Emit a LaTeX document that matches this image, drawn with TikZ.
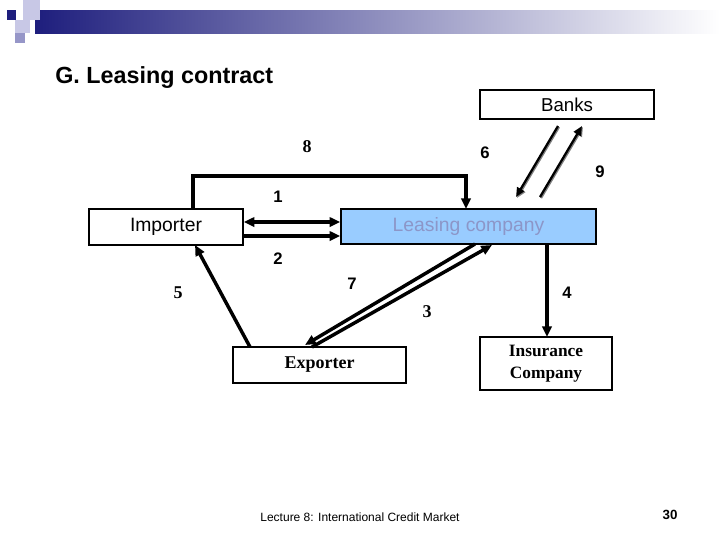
\documentclass[tikz,border=0pt]{standalone}
\usepackage{fontspec}
\setmainfont{Liberation Serif}
\newfontfamily\arial{Liberation Sans}
\usetikzlibrary{calc,arrows.meta}
\definecolor{navy}{RGB}{30,30,125}
\definecolor{lav}{RGB}{200,200,230}
\definecolor{lav2}{RGB}{150,150,200}
\definecolor{leasefill}{RGB}{153,204,255}
\definecolor{leasetext}{RGB}{140,150,200}
\tikzset{
 box/.style={draw,line width=1.2pt,minimum height=0pt,inner sep=0pt},
 arr/.style={line width=2.6pt,-{Triangle[length=8pt,width=7pt]}},
 thinarr/.style={line width=1.7pt,-{Triangle[length=7pt,width=6pt]}},
 num/.style={font=\arial\bfseries\fontsize{12.5}{14}\selectfont},
 snum/.style={font=\bfseries\fontsize{13.5}{15}\selectfont}
}
\begin{document}
\begin{tikzpicture}[x=0.75pt,y=-0.75pt]
\useasboundingbox (0,0) rectangle (720,540);
% header
\shade[left color=navy,right color=white,draw=none] (35,10) rectangle (720,33);
\fill[lav] (23,0) rectangle (40,20);
\fill[lav] (15,20) rectangle (30,33);
\fill[lav2] (15,33) rectangle (25,43);
\fill[navy] (7,10) rectangle (16,20);
\node[anchor=west,inner sep=0pt,font=\arial\bfseries\fontsize{17.5}{20}\selectfont] (title) at (55,78) {G. Leasing contract};
% boxes
\node[box,minimum width=174*0.75pt,minimum height=29*0.75pt,font=\arial\fontsize{14}{16}\selectfont] (banks) at (567,104.5) {Banks};
\node[box,minimum width=154*0.75pt,minimum height=36*0.75pt,font=\arial\fontsize{14.5}{16}\selectfont] (imp) at (166,227) {Importer};
\node[box,fill=leasefill,minimum width=255*0.75pt,minimum height=35*0.75pt,font=\arial\fontsize{14.5}{16}\selectfont,text=leasetext] (lease) at (468.5,226.5) {\raisebox{2pt}{Leasing company}};
\node[box,minimum width=173*0.75pt,minimum height=36*0.75pt,font=\bfseries\fontsize{13.5}{15}\selectfont] (exp) at (319.5,365) {\raisebox{1pt}{Exporter}};
\node[box,minimum width=132*0.75pt,minimum height=53*0.75pt,align=center,font=\bfseries\fontsize{13}{16.5}\selectfont] (ins) at (546,363.5) {Insurance\\Company};
% connectors
\coordinate (c2) at (466,176);
\draw[arr] (193,209) |- (c2) -- (466,209);
\draw[line width=2.6pt,{Triangle[length=8pt,width=7pt]}-{Triangle[length=8pt,width=7pt]}] (imp.east |- 0,222) -- (lease.west |- 0,222);
\draw[arr] (imp.east |- 0,236) -- (lease.west |- 0,236);
\draw[arr] (475,244) -- (305,345);
\draw[arr] (312,347) -- (492,245);
\draw[arr] (250,347) -- (195,245);
\draw[arr] (547,244) -- (547,337);
\draw[thinarr,gray,shift={(1,1)}] (558,126) -- (516,197);
\draw[thinarr] (558,126) -- (516,197);
\draw[thinarr,gray,shift={(1,1)}] (540,197) -- (582,126);
\draw[thinarr] (540,197) -- (582,126);
% labels
\node[snum] (n8) at (307,147) {8};
\node[num] (n6) at (485,153) {6};
\node[num] (n9) at (600,172) {9};
\node[num] (n1) at (278,197) {1};
\node[num] (n2) at (278,259) {2};
\node[num] (n7) at (352,284) {7};
\node[snum] (n5) at (178,293) {5};
\node[snum] (n3) at (427,312) {3};
\node[num] (n4) at (567,293) {4};
\node[font=\arial\fontsize{9}{10}\selectfont] (foot) at (360,517) {Lecture 8: International Credit Market};
\node[font=\arial\bfseries\fontsize{10}{11}\selectfont] (pg) at (670,515) {30};
\end{tikzpicture}
\end{document}
